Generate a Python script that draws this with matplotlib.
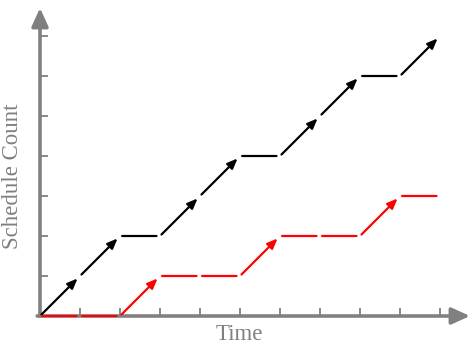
import matplotlib
matplotlib.use('Agg')
import matplotlib.pyplot as plt

# step values at each time tick (0..10)
black_vals = [0, 1, 2, 2, 3, 4, 4, 5, 6, 6, 7]
red_vals = [0, 0, 0, 1, 1, 1, 2, 2, 2, 3, 3]
x_ticks = list(range(1, 11))
y_ticks = list(range(1, 8))

axis_gray = '#808080'

fig = plt.figure(figsize=(4.76, 3.44), dpi=100)
ax = fig.add_axes([40 / 476, 28 / 344, 430 / 476, 308 / 344])
ax.set_xlim(0, 10.75)
ax.set_ylim(0, 7.7)
for s in ax.spines.values():
    s.set_visible(False)

# axis arrows
ax_arrow = dict(arrowstyle='-|>,head_length=1.1,head_width=0.5', lw=2.6,
                color=axis_gray, shrinkA=0, shrinkB=0)
ax.annotate('', xy=(10.75, 0), xytext=(-0.07, 0), arrowprops=ax_arrow,
            annotation_clip=False, zorder=1)
ax.annotate('', xy=(0, 7.7), xytext=(0, 0), arrowprops=ax_arrow,
            annotation_clip=False, zorder=1)

ax.set_xticks(x_ticks)
ax.set_yticks(y_ticks)
ax.set_xticklabels([])
ax.set_yticklabels([])
ax.tick_params(axis='both', direction='in', length=6, width=1.3, colors=axis_gray)


def draw_steps(vals, color):
    for i in range(len(vals) - 1):
        y0, y1 = vals[i], vals[i + 1]
        if y1 > y0:
            style = '-|>,head_length=0.6,head_width=0.25'
        else:
            style = '-'
        ax.annotate('', xy=(i + 1, y1), xytext=(i, y0),
                    arrowprops=dict(arrowstyle=style, lw=1.6, color=color,
                                    shrinkA=1.5, shrinkB=2.5),
                    annotation_clip=False, zorder=3)


draw_steps(black_vals, 'black')
draw_steps(red_vals, 'red')

fig.text(239 / 476, 1 - 334 / 344, 'Time', family='Liberation Serif', fontsize=16.5,
         color=axis_gray, ha='center', va='center')
fig.text(13 / 476, 1 - 176 / 344, 'Schedule Count', family='Liberation Serif',
         fontsize=16.5, color=axis_gray, ha='center', va='center', rotation=90)

fig.savefig('out.png', dpi=100)
